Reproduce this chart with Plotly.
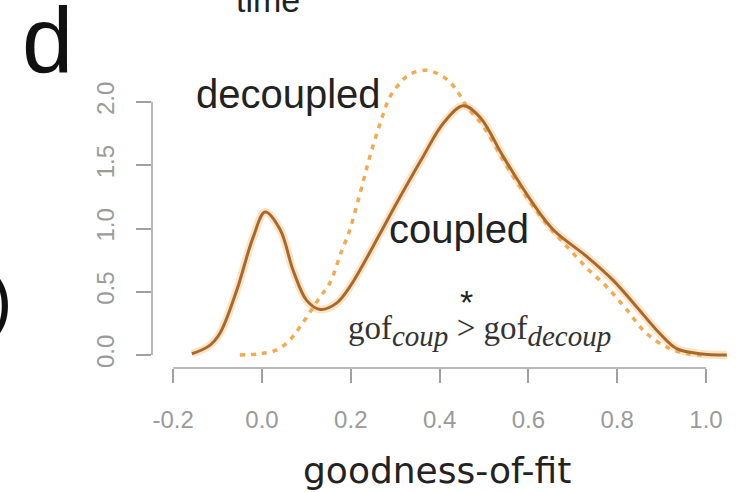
import plotly.graph_objects as go

# ---------------- data ----------------
coupled_x = [-0.158, -0.12, -0.095, -0.057, -0.020, 0.007, 0.041, 0.070, 0.101, 0.131,
             0.168, 0.198, 0.266, 0.303, 0.363, 0.408, 0.453, 0.491, 0.543, 0.604,
             0.656, 0.731, 0.791, 0.844, 0.896, 0.934, 0.986, 1.047]
coupled_y = [0.01, 0.07, 0.17, 0.51, 0.93, 1.13, 0.99, 0.67, 0.43, 0.36,
             0.41, 0.54, 0.96, 1.20, 1.57, 1.83, 1.97, 1.88, 1.57, 1.23,
             0.99, 0.78, 0.59, 0.38, 0.17, 0.05, 0.01, 0.0]

decoupled_x = [-0.05, -0.005, 0.033, 0.063, 0.089, 0.131, 0.153, 0.18, 0.194, 0.221,
               0.243, 0.266, 0.288, 0.311, 0.333, 0.371, 0.408, 0.435, 0.46, 0.50,
               0.55, 0.60, 0.64, 0.686, 0.731, 0.776, 0.821, 0.866, 0.919, 0.96, 1.0]
decoupled_y = [0.0, 0.01, 0.04, 0.12, 0.24, 0.46, 0.57, 0.83, 0.95, 1.28,
               1.57, 1.83, 2.04, 2.15, 2.22, 2.25, 2.20, 2.11, 1.97, 1.80,
               1.50, 1.23, 1.04, 0.86, 0.69, 0.54, 0.36, 0.17, 0.05, 0.01, 0.0]

x_ticks = [-0.2, 0.0, 0.2, 0.4, 0.6, 0.8, 1.0]
x_tick_labels = ["-0.2", "0.0", "0.2", "0.4", "0.6", "0.8", "1.0"]
y_ticks = [0.0, 0.5, 1.0, 1.5, 2.0]
y_tick_labels = ["0.0", "0.5", "1.0", "1.5", "2.0"]

x_title = "goodness-of-fit"
label_coupled = "coupled"
label_decoupled = "decoupled"
panel_label = "d"

# ---------------- layout geometry ----------------
W, H = 736, 492
L, R, T, B = 152, 736, 40, 368          # plot area in pixels
X0PX, XSCALE = 262, 444                 # pixel of x=0, pixels per unit
Y0PX, YSCALE = 355, 126.5               # pixel of y=0, pixels per unit

def px(xp):
    return (xp - L) / (R - L)

def py(yp):
    return (B - yp) / (B - T)

x_range = [(L - X0PX) / XSCALE, (R - X0PX) / XSCALE]
y_range = [(Y0PX - B) / YSCALE, (Y0PX - T) / YSCALE]

fig = go.Figure()

# halo under the coupled line (jpeg glow look)
fig.add_trace(go.Scatter(x=coupled_x, y=coupled_y, mode="lines",
                         line=dict(color="rgba(250,178,90,0.35)", width=8, shape="spline"),
                         hoverinfo="skip", showlegend=False))
fig.add_trace(go.Scatter(x=decoupled_x, y=decoupled_y, mode="lines",
                         line=dict(color="#f3aa50", width=3.5, dash="5px,6px", shape="spline"),
                         name=label_decoupled, showlegend=False))
fig.add_trace(go.Scatter(x=coupled_x, y=coupled_y, mode="lines",
                         line=dict(color="#a8692f", width=3, shape="spline"),
                         name=label_coupled, showlegend=False))

axis_gray = "#a0a0a0"
tick_font = dict(family="Liberation Sans, Arial, sans-serif", size=24, color="#9a9a9a")

fig.update_xaxes(range=x_range, tickvals=x_ticks, ticktext=x_tick_labels,
                 ticks="outside", ticklen=14, tickwidth=1.5, tickcolor=axis_gray,
                 showline=False, showgrid=False, zeroline=False,
                 tickfont=tick_font, ticklabelstandoff=16, fixedrange=True)
fig.update_yaxes(range=y_range, tickvals=y_ticks, ticktext=y_tick_labels,
                 ticks="outside", ticklen=15, tickwidth=1.5, tickcolor=axis_gray,
                 showline=False, showgrid=False, zeroline=False, tickangle=-90,
                 tickfont=tick_font, ticklabelstandoff=12, fixedrange=True)

# R-style axis lines spanning only first..last tick
fig.add_shape(type="line", xref="x", yref="paper", x0=min(x_ticks), x1=max(x_ticks),
              y0=0, y1=0, line=dict(color=axis_gray, width=1.5))
fig.add_shape(type="line", xref="paper", yref="y", x0=0, x1=0,
              y0=min(y_ticks), y1=max(y_ticks), line=dict(color=axis_gray, width=1.5))

sans = "Liberation Sans, Arial, sans-serif"
serif = "Liberation Serif, Times New Roman, serif"
ann = []
ann.append(dict(text=panel_label, x=px(47), y=py(40), font=dict(family=sans, size=92, color="#111")))
ann.append(dict(text="time", x=px(268), y=py(21), yanchor="bottom",
                font=dict(family=sans, size=34, color="#222")))
ann.append(dict(text=")", x=px(14), y=py(300), xanchor="right",
                font=dict(family=sans, size=70, color="#111")))
ann.append(dict(text=label_decoupled, x=px(288), y=py(94), font=dict(family=sans, size=40, color="#222")))
ann.append(dict(text=label_coupled, x=px(459), y=py(229), font=dict(family=sans, size=40, color="#222")))
ann.append(dict(text="*", x=px(466), y=py(302), font=dict(family=sans, size=34, color="#222")))
gof_text = ('gof<sub><span style="font-size:29px"><i>coup</i></span></sub> &gt; '
            'gof<sub><span style="font-size:29px"><i>decoup</i></span></sub>')
ann.append(dict(text=gof_text, x=px(479), y=py(331), font=dict(family=serif, size=33, color="#333")))
ann.append(dict(text=x_title, x=px(437), y=py(470), font=dict(family="DejaVu Sans, sans-serif", size=36, color="#222")))

for a in ann:
    a.setdefault("xanchor", "center")
    a.setdefault("yanchor", "middle")
    a.update(xref="paper", yref="paper", showarrow=False)

fig.update_layout(width=W, height=H, autosize=False,
                  margin=dict(l=L, r=W - R, t=T, b=H - B, pad=0),
                  plot_bgcolor="white", paper_bgcolor="white",
                  annotations=ann, showlegend=False)

fig.write_html("out.html")
